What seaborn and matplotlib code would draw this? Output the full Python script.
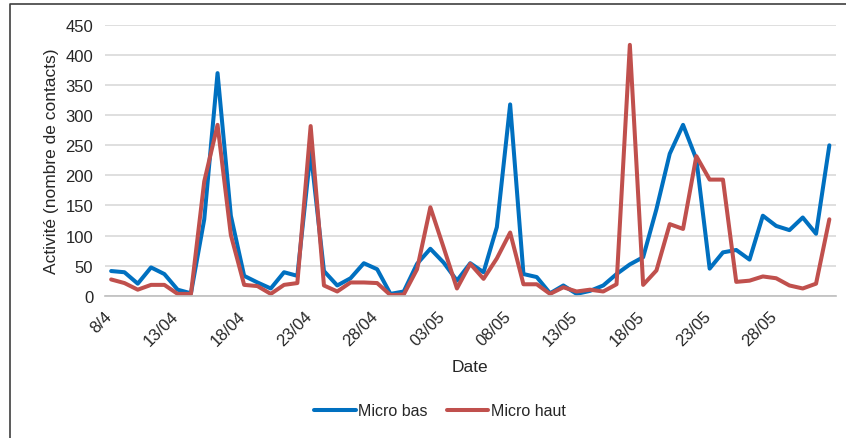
import numpy as np
import pandas as pd
import matplotlib
matplotlib.use("Agg")
import matplotlib.pyplot as plt
import seaborn as sns
from matplotlib.lines import Line2D

# Daily counts, 8 April to 1 June
micro_bas = [41, 39, 20, 47, 36, 10, 4, 127, 370,
             133, 33, 22, 12, 39, 33, 240, 41, 17, 29, 54, 44, 3, 7, 53,
             78, 55, 25, 54, 39, 114, 318, 36, 31, 4, 17, 3, 8, 17, 36,
             52, 64, 144, 236, 284, 227, 45, 72, 76, 60, 133, 116, 109,
             130, 103, 250]
micro_haut = [27, 21, 10, 18, 18, 3, 3, 190, 284,
              101, 18, 16, 3, 18, 21, 282, 17, 7, 22, 22, 21, 1, 2, 44,
              147, 80, 12, 53, 28, 62, 105, 19, 19, 3, 14, 7, 10, 7, 19,
              417, 18, 42, 119, 111, 232, 193, 193, 23, 25, 32, 29,
              17, 12, 20, 127]
tick_labels = ["8/4", "13/04", "18/04", "23/04", "28/04", "03/05",
               "08/05", "13/05", "18/05", "23/05", "28/05", ""]
series_names = ["Micro bas", "Micro haut"]
colors = ["#0070C0", "#C0504D"]

day = np.arange(len(micro_bas)) + 0.5
df = pd.concat([
    pd.DataFrame({"day": day, "value": micro_bas, "serie": series_names[0]}),
    pd.DataFrame({"day": day, "value": micro_haut, "serie": series_names[1]}),
])

sns.set_theme(style="white")
plt.rcParams["font.family"] = ["Liberation Sans", "DejaVu Sans"]

fig = plt.figure(figsize=(8.46, 4.39), dpi=100)
ax = fig.add_axes([104.5 / 846, 1 - 296.7 / 439, (836 - 104.5) / 846, (296.7 - 26) / 439])

sns.lineplot(data=df, x="day", y="value", hue="serie", palette=colors,
             linewidth=2.9, ax=ax, legend=False, sort=False)

ax.set_xlim(0, 55)
ax.set_ylim(0, 450)
ax.set_yticks(np.arange(0, 451, 50))
ax.yaxis.grid(True, color="#D9D9D9", linewidth=1.2)
ax.set_axisbelow(True)
ax.set_xticks(np.arange(0, 56, 5))
ax.set_xticklabels(tick_labels, rotation=45, ha="right", rotation_mode="anchor")
ax.tick_params(axis="x", length=5, width=1, color="#BFBFBF", direction="out",
               labelsize=12, pad=4)
ax.tick_params(axis="y", length=0, labelsize=12, pad=8)
for s in ["top", "right", "left"]:
    ax.spines[s].set_visible(False)
ax.spines["bottom"].set_color("#BFBFBF")
ax.spines["bottom"].set_linewidth(1.2)

ax.set_xlabel("Date", fontsize=12.5, labelpad=8)
ax.set_ylabel("Activité (nombre de contacts)", fontsize=12.5, labelpad=5)

handles = [Line2D([], [], color=c, linewidth=2.9) for c in colors]
fig.legend(handles, series_names, loc="center", bbox_to_anchor=(440 / 846, 1 - 412 / 439),
           ncol=2, frameon=False, fontsize=11.5, handlelength=2.6, handletextpad=0.15,
           columnspacing=1.2)

# chart area frame
fig.add_artist(Line2D([10 / 846, 10 / 846, 1], [0, 1 - 5 / 439, 1 - 5 / 439],
                      transform=fig.transFigure, color="#404040", linewidth=1.2))

fig.savefig("out.png", dpi=100)
